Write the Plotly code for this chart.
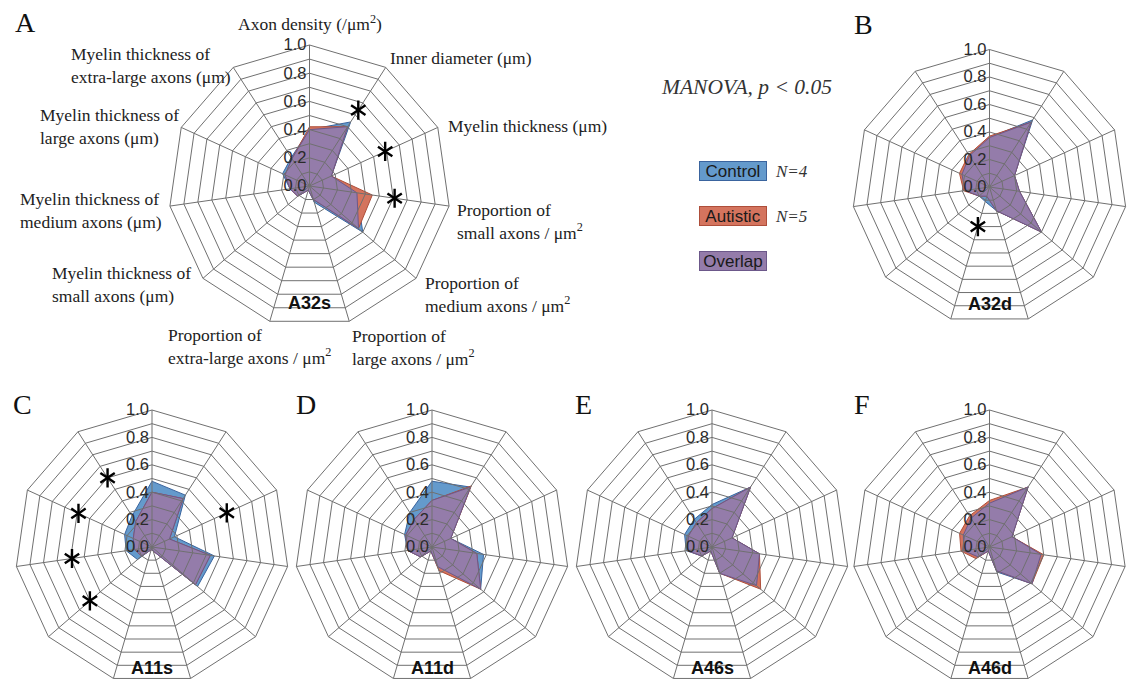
import numpy as np
import plotly.graph_objects as go

W, H = 1127, 684

# ---------------- data ----------------
AXIS_KEYS = ["Axon density", "Inner diameter", "Myelin thickness",
             "Proportion small", "Proportion medium", "Proportion large",
             "Proportion extra-large", "MT small", "MT medium", "MT large",
             "MT extra-large"]
AXIS_LABELS = [
    "Axon density (/μm<sup>2</sup>)",
    "Inner diameter (μm)",
    "Myelin thickness (μm)",
    "Proportion of<br>small axons / μm<sup>2</sup>",
    "Proportion of<br>medium axons / μm<sup>2</sup>",
    "Proportion of<br>large axons / μm<sup>2</sup>",
    "Proportion of<br>extra-large axons / μm<sup>2</sup>",
    "Myelin thickness of<br>small axons (μm)",
    "Myelin thickness of<br>medium axons (μm)",
    "Myelin thickness of<br>large axons (μm)",
    "Myelin thickness of<br>extra-large axons (μm)",
]

REGIONS = ["A32s", "A32d", "A11s", "A11d", "A46s", "A46d"]
LETTERS = ["A", "B", "C", "D", "E", "F"]

CONTROL_A32S = [0.40, 0.54, 0.17, 0.34, 0.50, 0.12, 0.03, 0.11, 0.14, 0.21, 0.24]
AUTISTIC_A32S = [0.42, 0.50, 0.17, 0.45, 0.46, 0.10, 0.03, 0.11, 0.14, 0.19, 0.23]
CONTROL_A32D = [0.36, 0.58, 0.20, 0.22, 0.50, 0.18, 0.11, 0.10, 0.18, 0.22, 0.27]
AUTISTIC_A32D = [0.37, 0.56, 0.20, 0.22, 0.50, 0.18, 0.07, 0.10, 0.19, 0.24, 0.28]
CONTROL_A11S = [0.48, 0.45, 0.18, 0.46, 0.44, 0.03, 0.02, 0.14, 0.19, 0.22, 0.27]
AUTISTIC_A11S = [0.40, 0.42, 0.14, 0.43, 0.42, 0.03, 0.02, 0.10, 0.13, 0.15, 0.22]
CONTROL_A11D = [0.48, 0.52, 0.15, 0.38, 0.47, 0.15, 0.03, 0.11, 0.18, 0.22, 0.30]
AUTISTIC_A11D = [0.34, 0.53, 0.15, 0.33, 0.47, 0.18, 0.03, 0.11, 0.18, 0.21, 0.24]
CONTROL_A46S = [0.31, 0.52, 0.16, 0.35, 0.43, 0.20, 0.03, 0.10, 0.19, 0.22, 0.24]
AUTISTIC_A46S = [0.28, 0.52, 0.16, 0.35, 0.47, 0.20, 0.03, 0.10, 0.18, 0.19, 0.21]
CONTROL_A46D = [0.32, 0.52, 0.18, 0.38, 0.41, 0.19, 0.03, 0.11, 0.19, 0.21, 0.25]
AUTISTIC_A46D = [0.34, 0.52, 0.18, 0.40, 0.41, 0.18, 0.03, 0.13, 0.21, 0.24, 0.27]

# significance asterisks: axis index and radial position
SIG_AXES_A32S = [1, 2, 3]
SIG_R_A32S = [0.64, 0.59, 0.61]
SIG_AXES_A32D = [6]
SIG_R_A32D = [0.30]
SIG_AXES_A11S = [2, 7, 8, 9, 10]
SIG_R_A11S = [0.60, 0.60, 0.59, 0.59, 0.60]

RADIAL_TICKS = [0.0, 0.1, 0.2, 0.3, 0.4, 0.5, 0.6, 0.7, 0.8, 0.9, 1.0]
RADIAL_LABELS = ["0.0", "", "0.2", "", "0.4", "", "0.6", "", "0.8", "", "1.0"]

CONTROL = {"A32s": CONTROL_A32S, "A32d": CONTROL_A32D, "A11s": CONTROL_A11S,
           "A11d": CONTROL_A11D, "A46s": CONTROL_A46S, "A46d": CONTROL_A46D}
AUTISTIC = {"A32s": AUTISTIC_A32S, "A32d": AUTISTIC_A32D, "A11s": AUTISTIC_A11S,
            "A11d": AUTISTIC_A11D, "A46s": AUTISTIC_A46S, "A46d": AUTISTIC_A46D}
SIGNIF = {"A32s": (SIG_AXES_A32S, SIG_R_A32S), "A32d": (SIG_AXES_A32D, SIG_R_A32D),
          "A11s": (SIG_AXES_A11S, SIG_R_A11S)}

# ---------------- layout geometry (pixels) ----------------
PANEL_CX = [309.5, 989.5, 152, 432, 712, 989.5]
PANEL_CY = [186, 187, 547, 547, 547, 547]
PANEL_R = [141, 137.5, 137, 137, 137, 137]
NAME_DY = [117, 117, 121, 121, 121, 121]
# (traces subplot, grid overlay subplot)
PAIRS = [("polar", "polar10"), ("polar2", "polar3"), ("polar4", "polar5"),
         ("polar6", "polar7"), ("polar8", "polar9"), ("polar11", "polar12")]

# panel-A axis label placement: (x px, y px, xanchor)
AXIS_LABEL_POS = [(310, 23, "center"), (388, 58, "left"), (446, 126, "left"),
                  (455, 221, "left"), (423, 294, "left"), (350, 347, "left"),
                  (166, 346, "left"), (50, 284, "left"), (18, 210, "left"),
                  (38, 126, "left"), (69, 65, "left")]

BLUE_FILL = "rgb(100,154,204)"
BLUE_EDGE = "rgb(58,100,158)"
RED_FILL = "rgb(212,116,94)"
RED_EDGE = "rgb(174,78,58)"
PURPLE_FILL = "rgb(148,124,170)"
PURPLE_EDGE = "rgb(108,88,138)"
GRID = "rgb(112,112,112)"

SANS = "Liberation Sans, Arial, sans-serif"
SERIF = "Liberation Serif, Times New Roman, serif"

fig = go.Figure()
layout_polars = {}


def closed(vals):
    vals = list(vals)
    return vals + vals[:1]


theta_closed = closed(AXIS_KEYS)

for i, reg in enumerate(REGIONS):
    base, over = PAIRS[i]
    ctrl = np.array(CONTROL[reg])
    aut = np.array(AUTISTIC[reg])
    ovl = np.minimum(ctrl, aut)
    for vals, fc, lc in [(ctrl, BLUE_FILL, BLUE_EDGE), (aut, RED_FILL, RED_EDGE),
                         (ovl, PURPLE_FILL, PURPLE_EDGE)]:
        fig.add_trace(go.Scatterpolar(
            r=closed(vals), theta=theta_closed, mode="lines", fill="toself",
            fillcolor=fc, line=dict(color=lc, width=1), subplot=base,
            showlegend=False, hoverinfo="skip"))
    # invisible trace to set up categories on the overlay
    fig.add_trace(go.Scatterpolar(
        r=[0] * len(AXIS_KEYS), theta=AXIS_KEYS, mode="markers",
        marker=dict(size=1, opacity=0), subplot=over, showlegend=False,
        hoverinfo="skip"))
    if reg in SIGNIF:
        ax_idx, rs = SIGNIF[reg]
        th = [AXIS_KEYS[k] for k in ax_idx]
        for sym in ["y-up-open", "y-down-open"]:
            fig.add_trace(go.Scatterpolar(
                r=rs, theta=th, mode="markers",
                marker=dict(symbol=sym, size=12, line=dict(color="black", width=2.4),
                            color="black"),
                subplot=over, showlegend=False, hoverinfo="skip"))

    cx, cy, R = PANEL_CX[i], PANEL_CY[i], PANEL_R[i]
    dom = dict(x=[max(0, (cx - R) / W), min(1, (cx + R) / W)],
               y=[max(0, 1 - (cy + R) / H), min(1, 1 - (cy - R) / H)])

    layout_polars[base] = dict(
        domain=dom, bgcolor="white", gridshape="linear",
        angularaxis=dict(type="category", categoryorder="array", categoryarray=AXIS_KEYS,
                         rotation=90, direction="clockwise", showgrid=False,
                         showline=False, showticklabels=False, ticks=""),
        radialaxis=dict(range=[0, 1], visible=False))

    layout_polars[over] = dict(
        domain=dom, bgcolor="rgba(0,0,0,0)", gridshape="linear",
        angularaxis=dict(type="category", categoryorder="array", categoryarray=AXIS_KEYS,
                         rotation=90, direction="clockwise", showgrid=True,
                         gridcolor=GRID, gridwidth=1, showline=True, linecolor=GRID,
                         linewidth=1, ticks="", showticklabels=False),
        radialaxis=dict(range=[0, 1], tickmode="array", tickvals=RADIAL_TICKS,
                        ticktext=RADIAL_LABELS, angle=90, side="counterclockwise",
                        tickangle=90,
                        showline=False, ticks="", showgrid=True, gridcolor=GRID,
                        gridwidth=1,
                        tickfont=dict(family=SANS, size=16.5, color="#2a2a2a")))

annotations = []
# panel-A category labels
for (lx, ly, anc), lab in zip(AXIS_LABEL_POS, AXIS_LABELS):
    annotations.append(dict(x=lx / W, y=1 - ly / H, xref="paper", yref="paper",
                            text=lab, showarrow=False, xanchor=anc, yanchor="middle",
                            align="left",
                            font=dict(family=SERIF, size=17.5, color="#222222")))
# panel letters
LETTER_POS = [(25, 22), (863, 24), (23, 404), (306, 404), (583, 404), (862, 404)]
for (lx, ly), letter in zip(LETTER_POS, LETTERS):
    annotations.append(dict(x=lx / W, y=1 - ly / H, xref="paper", yref="paper",
                            text=letter, showarrow=False, xanchor="center",
                            yanchor="middle",
                            font=dict(family=SERIF, size=28, color="#111111")))
# region names
for i, reg in enumerate(REGIONS):
    cx, cy = PANEL_CX[i], PANEL_CY[i]
    annotations.append(dict(x=cx / W, y=1 - (cy + NAME_DY[i]) / H, xref="paper",
                            yref="paper", text=f"<b>{reg}</b>", showarrow=False,
                            xanchor="center", yanchor="middle",
                            font=dict(family=SANS, size=18, color="#111111")))
# MANOVA note
annotations.append(dict(x=746 / W, y=1 - 87 / H, xref="paper", yref="paper",
                        text="<i>MANOVA, p &lt; 0.05</i>", showarrow=False,
                        xanchor="center", yanchor="middle",
                        font=dict(family=SERIF, size=21.5, color="#333333")))
# legend boxes
LEGEND_ITEMS = [("Control", "N=4", BLUE_FILL, BLUE_EDGE, 171),
                ("Autistic", "N=5", RED_FILL, RED_EDGE, 216),
                ("Overlap", "", PURPLE_FILL, PURPLE_EDGE, 261)]
for name, n, fc, lc, ly in LEGEND_ITEMS:
    annotations.append(dict(x=733 / W, y=1 - ly / H, xref="paper", yref="paper",
                            text=name, showarrow=False, xanchor="center",
                            yanchor="middle", bgcolor=fc, bordercolor=lc,
                            borderwidth=1, borderpad=0, width=66, height=18,
                            font=dict(family=SANS, size=17, color="#1a1a1a")))
    if n:
        annotations.append(dict(x=773 / W, y=1 - ly / H, xref="paper", yref="paper",
                                text=f"<i>{n}</i>", showarrow=False, xanchor="left",
                                yanchor="middle",
                                font=dict(family=SERIF, size=17, color="#333333")))

fig.update_layout(width=W, height=H, margin=dict(l=0, r=0, t=0, b=0),
                  paper_bgcolor="white", plot_bgcolor="white",
                  showlegend=False, annotations=annotations, **layout_polars)

fig.write_html("out.html")
